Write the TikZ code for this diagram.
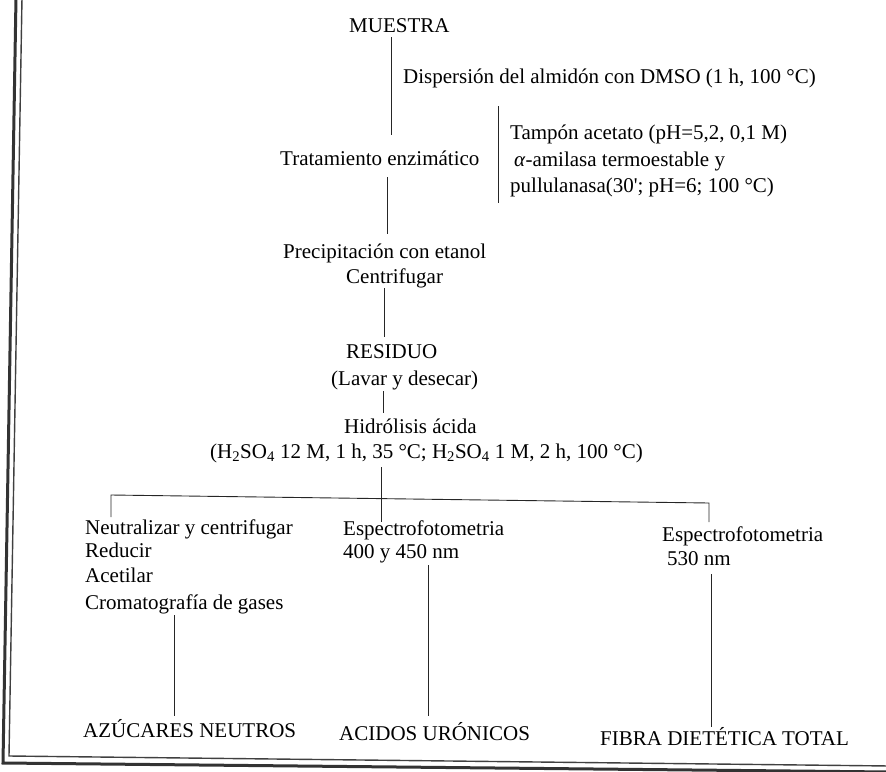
\documentclass[tikz,border=0pt]{standalone}
\usepackage{fontspec}
\setmainfont{Liberation Serif}
\begin{document}
\begin{tikzpicture}[x=1pt,y=-1pt,
  txt/.style={anchor=base west,inner sep=0pt,font=\fontsize{21}{24}\selectfont},
  conn/.style={line width=0.9pt,draw=black!85},
  thickb/.style={line width=3pt,draw=black!80},
  thinb/.style={line width=1.4pt,draw=black!75}]
\useasboundingbox (0,0) rectangle (886,771);
% border
\draw[thickb] (16,-2) -- (3,763) -- (890,772);
\draw[thinb] (22,-2) -- (9,756) -- (890,766);
% texts
\node[txt] (muestra) at (349,32) {MUESTRA};
\node[txt] (disp) at (403,83) {Dispersión del almidón con DMSO (1 h, 100 °C)};
\node[txt] (trat) at (280,165) {Tratamiento enzimático};
\node[txt] (tamp) at (510,139) {Tampón acetato (pH=5,2, 0,1 M)};
\node[txt] (amil) at (514,166) {\textit{α}-amilasa termoestable y};
\node[txt] (pull) at (510,192) {pullulanasa(30\textquotesingle; pH=6; 100 °C)};
\node[txt] (prec) at (283,258) {Precipitación con etanol};
\node[txt] (centr) at (346,283) {Centrifugar};
\node[txt] (resid) at (346,358) {RESIDUO};
\node[txt] (lavar) at (331,385) {(Lavar y desecar)};
\node[txt] (hidr) at (344,433) {Hidrólisis ácida};
\node[txt,anchor=base east] (hcond) at (643,458) {(H\textsubscript{2}SO\textsubscript{4} 12 M, 1 h, 35 °C; H\textsubscript{2}SO\textsubscript{4} 1 M, 2 h, 100 °C)};
\node[txt] (neut) at (85,534) {Neutralizar y centrifugar};
\node[txt] (redu) at (85,557) {Reducir};
\node[txt] (acet) at (85,582) {Acetilar};
\node[txt] (crom) at (85,609) {Cromatografía de gases};
\node[txt] (esp1) at (343,535) {Espectrofotometria};
\node[txt] (nm1) at (343,558) {400 y 450 nm};
\node[txt] (esp2) at (662,541) {Espectrofotometria};
\node[txt] (nm2) at (667,565) {530 nm};
\node[txt] (azu) at (83,737) {AZÚCARES NEUTROS};
\node[txt] (acid) at (339,740) {ACIDOS URÓNICOS};
\node[txt] (fibra) at (600,745) {FIBRA DIETÉTICA TOTAL};
% connector ends
\coordinate (a1) at (391,37);  \coordinate (a2) at (391,135);
\coordinate (b1) at (387,177); \coordinate (b2) at (387,234);
\coordinate (k1) at (498,106); \coordinate (k2) at (498,203);
\coordinate (c1) at (384,288); \coordinate (c2) at (384,337);
\coordinate (d1) at (383,391); \coordinate (d2) at (383,413);
\coordinate (e1) at (381,467); \coordinate (e2) at (381,522);
\coordinate (hl) at (111,495); \coordinate (hr) at (709,503);
\coordinate (fl) at (111,517); \coordinate (fr) at (709,522);
\coordinate (g1) at (174,615); \coordinate (g2) at (174,716);
\coordinate (m1) at (428,565); \coordinate (m2) at (428,716);
\coordinate (r1) at (711,574); \coordinate (r2) at (711,727);
% connectors
\draw[conn] (a1) -- (a2);
\draw[conn] (b1) -- (b2);
\draw[conn] (k1) -- (k2);
\draw[conn] (c1) -- (c2);
\draw[conn] (d1) -- (d2);
\draw[conn] (e1) -- (e2);
\draw[conn] (fl) -- (hl) -- (hr) -- (fr);
\draw[conn] (g1) -- (g2);
\draw[conn] (m1) -- (m2);
\draw[conn] (r1) -- (r2);
\end{tikzpicture}
\end{document}
